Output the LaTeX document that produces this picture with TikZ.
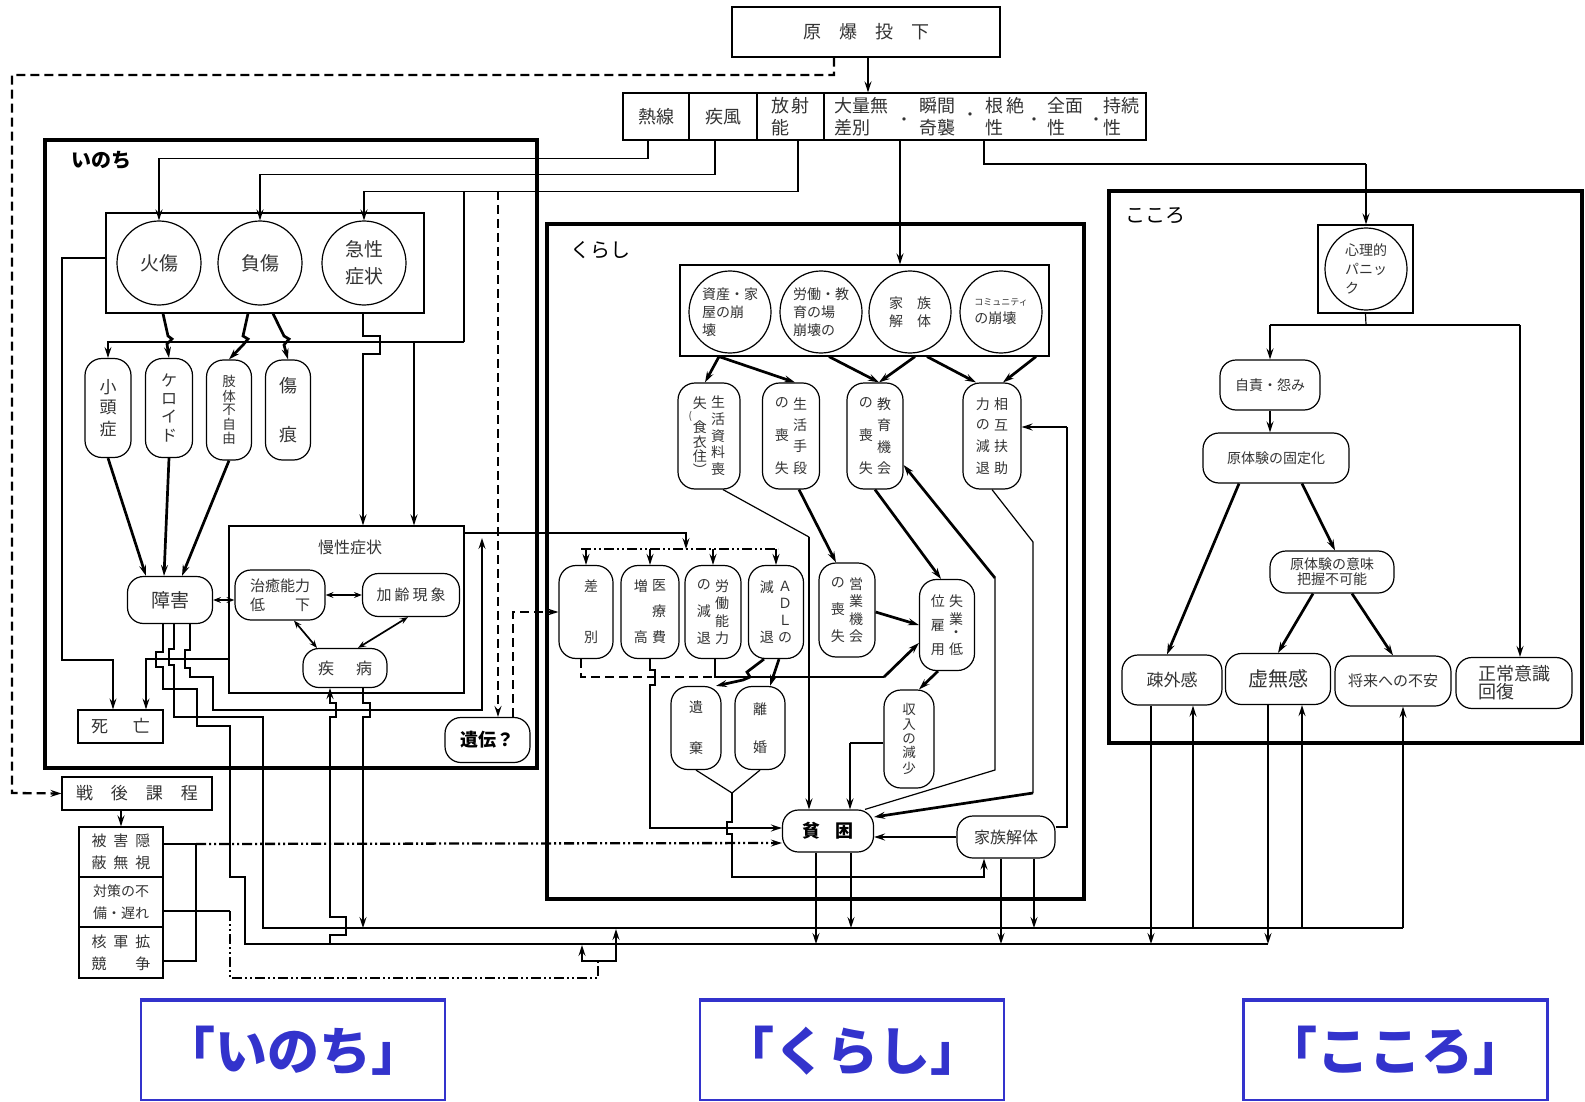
\documentclass[tikz,border=0pt]{standalone}
\usepackage{fontspec}
\setmainfont{Noto Sans CJK JP}
\usetikzlibrary{arrows.meta}
\definecolor{labelblue}{RGB}{51,51,204}
\newcommand{\vcolumn}[2]{\parbox[c][#1][s]{1.1em}{\centering\baselineskip=0pt\lineskip=0pt\relax #2}}

\begin{document}
\begin{tikzpicture}[x=1pt, y=-1pt,
    thinln/.style={line width=1.2pt},
    midln/.style={line width=1.7pt},
    thickln/.style={line width=2.7pt},
    zone/.style={line width=3.6pt},
    dashln/.style={line width=2.3pt, dash pattern=on 9pt off 5pt},
    dashdotln/.style={line width=2.3pt, dash pattern=on 10pt off 3pt on 2pt off 3pt on 2pt off 3pt},
    arr/.style={-{Stealth[length=11pt,width=7pt,inset=4pt]}},
    darr/.style={{Stealth[length=8pt,width=6pt,inset=3pt]}-{Stealth[length=8pt,width=6pt,inset=3pt]}},
    cell/.style={draw, line width=1.2pt, inner sep=0pt, align=center, text=black!80},
    ring/.style={draw, circle, line width=1.2pt, inner sep=0pt, align=left, text=black!80},
    vcap/.style={draw, rounded corners=17pt, line width=1.2pt, inner sep=0pt, text=black!80, font=\fontsize{14}{17}\selectfont},
    hcap/.style={draw, rounded corners=16pt, line width=1.2pt, inner sep=0pt, align=center, text=black!80},
    tag/.style={inner sep=0pt, align=left, text=black!80},
    bluetag/.style={draw=labelblue, line width=2.2pt, text=labelblue, inner sep=0pt, minimum width=304pt, minimum height=99pt, font=\fontsize{52}{60}\selectfont\bfseries}]
    \useasboundingbox (0,0) rectangle (1585,1102);
    % Bomb and its effects
        \node[cell, minimum width=268pt, minimum height=50pt, font=\fontsize{18}{22}\selectfont] (genbaku) at (866,32) {原\quad 爆\quad 投\quad 下};
        \node[cell, minimum width=66pt, minimum height=47pt, font=\fontsize{18}{22}\selectfont] (netsusen) at (656,116.5) {熱線};
        \node[cell, minimum width=68pt, minimum height=47pt, font=\fontsize{18}{22}\selectfont] (shippu) at (723,116.5) {疾風};
        \node[cell, minimum width=67pt, minimum height=47pt, align=left, font=\fontsize{18}{22}\selectfont] (hoshano) at (790.5,116.5) {放\,射\\能};
        \node[cell, minimum width=322pt, minimum height=47pt] (bigcell) at (985,116.5) {};
        \node[tag, anchor=west, font=\fontsize{18}{22}\selectfont] (muSabetsu) at (834,116.5) {大量無\\差別};
        \node[tag, anchor=west, font=\fontsize{18}{22}\selectfont] (shunkan) at (919,116.5) {瞬間\\奇襲};
        \node[tag, anchor=west, font=\fontsize{18}{22}\selectfont] (konzetsu) at (985,116.5) {根\,絶\\性};
        \node[tag, anchor=west, font=\fontsize{18}{22}\selectfont] (zenmen) at (1047,116.5) {全面\\性};
        \node[tag, anchor=west, font=\fontsize{18}{22}\selectfont] (jizoku) at (1103,116.5) {持続\\性};
        \node[tag, font=\fontsize{16}{16}\selectfont] (dotA) at (904,122) {・};
        \node[tag, font=\fontsize{16}{16}\selectfont] (dotB) at (970,117) {・};
        \node[tag, font=\fontsize{16}{16}\selectfont] (dotC) at (1034,122) {・};
        \node[tag, font=\fontsize{16}{16}\selectfont] (dotD) at (1096,122) {・};
    % Inochi
        \draw[zone] (45,140) rectangle (537,768);
        \node[tag, text=black, font=\fontsize{20}{24}\selectfont\bfseries] (inochiLbl) at (101,160) {いのち};
        \node[cell, minimum width=318pt, minimum height=100pt] (acuteGrp) at (265,263) {};
        \node[ring, minimum size=84pt, font=\fontsize{19}{23}\selectfont] (kasho) at (159,263) {火傷};
        \node[ring, minimum size=84pt, font=\fontsize{19}{23}\selectfont] (fusho) at (260,263) {負傷};
        \node[ring, minimum size=84pt, font=\fontsize{19}{27}\selectfont] (kyusei) at (364,263) {急性\\症状};
        \node[vcap, minimum width=46pt, minimum height=99pt, font=\fontsize{17}{17}\selectfont] (shotosho) at (108,408) {\vcolumn{56pt}{小\vfill 頭\vfill 症}};
        \node[vcap, minimum width=47pt, minimum height=99pt, font=\fontsize{16}{16}\selectfont] (keloid) at (169,408) {\vcolumn{68pt}{ケ\vfill ロ\vfill イ\vfill ド}};
        \node[vcap, minimum width=45pt, minimum height=100pt, font=\fontsize{13.5}{14}\selectfont] (shitai) at (229,410) {\vcolumn{68pt}{肢\vfill 体\vfill 不\vfill 自\vfill 由}};
        \node[vcap, minimum width=45pt, minimum height=100pt, font=\fontsize{18}{18}\selectfont] (kizuato) at (288,410) {\vcolumn{64pt}{傷\vfill 痕}};
        \node[hcap, minimum width=85pt, minimum height=47pt, font=\fontsize{19}{23}\selectfont] (shogai) at (170,600) {障害};
        \node[cell, minimum width=235pt, minimum height=167pt] (manseiBox) at (346.5,609.5) {};
        \node[tag, font=\fontsize{16}{19}\selectfont] (manseiLbl) at (350,547) {慢性症状};
        \node[hcap, minimum width=90pt, minimum height=50pt, align=left, font=\fontsize{15}{19}\selectfont] (chiyu) at (280,595) {治癒能力\\低\hspace{2em}下};
        \node[hcap, minimum width=97pt, minimum height=43pt, font=\fontsize{15}{18}\selectfont] (karei) at (411,595) {加\hspace{3pt}齢\hspace{3pt}現\hspace{3pt}象};
        \node[hcap, minimum width=84pt, minimum height=39pt, font=\fontsize{16}{19}\selectfont] (shippei) at (345,668) {疾\hspace{22pt}病};
        \node[cell, minimum width=85pt, minimum height=33pt, font=\fontsize{17}{20}\selectfont] (shibo) at (120.5,726.5) {死\hspace{25pt}亡};
        \node[hcap, minimum width=85pt, minimum height=45pt, text=black, font=\fontsize{18}{22}\selectfont\bfseries] (iden) at (487.5,740) {遺伝？};
    % Post-war course
        \node[cell, minimum width=150pt, minimum height=33pt, font=\fontsize{17}{20}\selectfont] (sengo) at (137,793.5) {戦\hspace{18pt}後\hspace{18pt}課\hspace{18pt}程};
        \node[cell, minimum width=84pt, minimum height=50pt, font=\fontsize{15}{22}\selectfont] (higai) at (121,852) {被\hspace{7pt}害\hspace{7pt}隠\\蔽\hspace{7pt}無\hspace{7pt}視};
        \node[cell, minimum width=84pt, minimum height=50pt, font=\fontsize{14}{22}\selectfont] (taisaku) at (121,902) {対策の不\\備・遅れ};
        \node[cell, minimum width=84pt, minimum height=51pt, align=left, font=\fontsize{15}{22}\selectfont] (kaku) at (121,952.5) {核\hspace{7pt}軍\hspace{7pt}拡\\競\hspace{29pt}争};
    % Kurashi
        \draw[zone] (547,224) rectangle (1084,899);
        \node[tag, text=black, font=\fontsize{20}{24}\selectfont] (kurashiLbl) at (600,250) {くらし};
        \node[cell, minimum width=369pt, minimum height=91pt] (lifeGrp) at (864.5,310.5) {};
        \node[ring, minimum size=82pt, font=\fontsize{14}{18}\selectfont] (shisan) at (730,312) {資産・家\\屋の崩\\壊};
        \node[ring, minimum size=82pt, font=\fontsize{14}{18}\selectfont] (rodo) at (821,312) {労働・教\\育の場\\崩壊の};
        \node[ring, minimum size=82pt, font=\fontsize{14}{18}\selectfont] (kazoku) at (910,312) {家\hspace{14pt}族\\解\hspace{14pt}体};
        \node[ring, minimum size=82pt, font=\fontsize{14}{18}\selectfont] (komyu) at (1001,312) {{\fontsize{9}{10}\selectfont コミュニティ}\\の崩壊};
        \node[vcap, minimum width=62pt, minimum height=106pt] (seikatsuShiryo) at (709,436) {\vcolumn{79pt}{失\vfill\llap{\fontsize{10}{10}\selectfont(}食\vfill 衣\vfill 住\vfill ︶}\hspace{3pt}\vcolumn{79pt}{生\vfill 活\vfill 資\vfill 料\vfill 喪}};
        \node[vcap, minimum width=57pt, minimum height=106pt] (seikatsuShudan) at (791,436) {\vcolumn{76pt}{の\vfill 喪\vfill 失}\hspace{3pt}\vcolumn{76pt}{生\vfill 活\vfill 手\vfill 段}};
        \node[vcap, minimum width=56pt, minimum height=106pt] (kyoiku) at (875,436) {\vcolumn{76pt}{の\vfill 喪\vfill 失}\hspace{3pt}\vcolumn{76pt}{教\vfill 育\vfill 機\vfill 会}};
        \node[vcap, minimum width=58pt, minimum height=106pt] (sogo) at (992,436) {\vcolumn{76pt}{力\vfill の\vfill 減\vfill 退}\hspace{3pt}\vcolumn{76pt}{相\vfill 互\vfill 扶\vfill 助}};
        \node[vcap, minimum width=54pt, minimum height=93pt] (sabetsu) at (586,612) {\hspace{10pt}\vcolumn{63pt}{差\vfill 別}};
        \node[vcap, minimum width=58pt, minimum height=93pt] (iryo) at (650,612) {\vcolumn{63pt}{増\vfill 高}\hspace{3pt}\vcolumn{63pt}{医\vfill 療\vfill 費}};
        \node[vcap, minimum width=56pt, minimum height=93pt] (rodoryoku) at (713,612) {\vcolumn{64pt}{の\vfill 減\vfill 退}\hspace{3pt}\vcolumn{64pt}{労\vfill 働\vfill 能\vfill 力}};
        \node[vcap, minimum width=55pt, minimum height=93pt] (adl) at (776,612) {\vcolumn{62pt}{減\vfill 退}\hspace{3pt}\vcolumn{62pt}{Ａ\vfill Ｄ\vfill Ｌ\vfill の}};
        \node[vcap, minimum width=56pt, minimum height=94pt] (eigyo) at (847,610) {\vcolumn{64pt}{の\vfill 喪\vfill 失}\hspace{3pt}\vcolumn{64pt}{営\vfill 業\vfill 機\vfill 会}};
        \node[vcap, minimum width=55pt, minimum height=91pt] (shitsugyo) at (947,625) {\vcolumn{60pt}{位\vfill 雇\vfill 用}\hspace{3pt}\vcolumn{60pt}{失\vfill 業\vfill ・\vfill 低}};
        \node[vcap, minimum width=50pt, minimum height=98pt, font=\fontsize{13.5}{14}\selectfont] (shunyu) at (909,739) {\vcolumn{70pt}{収\vfill 入\vfill の\vfill 減\vfill 少}};
        \node[vcap, minimum width=50pt, minimum height=83pt] (iki) at (696,728) {\vcolumn{53pt}{遺\vfill 棄}};
        \node[vcap, minimum width=50pt, minimum height=83pt] (rikon) at (760,728) {\vcolumn{50pt}{離\vfill 婚}};
        \node[hcap, minimum width=91pt, minimum height=42pt, text=black, font=\fontsize{18}{22}\selectfont\bfseries] (hinkon) at (828,831) {貧\hspace{16pt}困};
        \node[hcap, minimum width=98pt, minimum height=42pt, font=\fontsize{16}{19}\selectfont] (kazokuKaitai) at (1006,837) {家族解体};
    % Kokoro
        \draw[zone] (1109,191) rectangle (1582,743);
        \node[tag, text=black, font=\fontsize{20}{24}\selectfont] (kokoroLbl) at (1155,216) {こころ};
        \node[cell, minimum width=95pt, minimum height=88pt] (panicBox) at (1365.5,269) {};
        \node[ring, minimum size=82pt, font=\fontsize{14}{19}\selectfont] (panic) at (1366,269) {心理的\\パニッ\\ク};
        \node[hcap, minimum width=100pt, minimum height=50pt, font=\fontsize{14}{17}\selectfont] (jiseki) at (1270,385) {自責・怨み};
        \node[hcap, minimum width=146pt, minimum height=50pt, font=\fontsize{14}{17}\selectfont] (koteika) at (1276,458) {原体験の固定化};
        \node[hcap, minimum width=124pt, minimum height=42pt, font=\fontsize{14}{15}\selectfont] (imi) at (1332,572) {原体験の意味\\把握不可能};
        \node[hcap, minimum width=100pt, minimum height=50pt, font=\fontsize{17}{20}\selectfont] (sogai) at (1172,680) {疎外感};
        \node[hcap, minimum width=105pt, minimum height=51pt, font=\fontsize{20}{24}\selectfont] (kyomu) at (1278,679) {虚無感};
        \node[hcap, minimum width=116pt, minimum height=50pt, font=\fontsize{15}{18}\selectfont] (fuan) at (1393,681) {将来への不安};
        \node[hcap, minimum width=116pt, minimum height=51pt, align=left, font=\fontsize{18}{18}\selectfont] (seijo) at (1514,683) {正常意識\\回復};
    % Labels
        \node[bluetag] (lblInochi) at (293,1050.5) {「いのち」};
        \node[bluetag] (lblKurashi) at (852,1050.5) {「くらし」};
        \node[bluetag] (lblKokoro) at (1395.5,1050.5) {「こころ」};
        \foreach \lbl in {lblInochi, lblKurashi, lblKokoro}
            \draw[labelblue, line width=4.5pt] (\lbl.north west) -- (\lbl.north east);
    % Rays
        \draw[midln, arr] ([xshift=2pt]genbaku.south) -- ([xshift=2pt]genbaku.south |- bigcell.north);
        \draw[dashln, arr] ([xshift=-32pt]genbaku.south) |- (12,75) -- (12,793) -- (sengo.west);
        \draw[midln, arr] ([xshift=-8pt]netsusen.south) -- ++(0,18) -| (kasho.north);
        \draw[midln, arr] ([xshift=-8pt]shippu.south) -- ++(0,34) -| (fusho.north);
        \draw[midln, arr] ([xshift=7.5pt]hoshano.south) -- ++(0,51) -| (kyusei.north);
        \coordinate (radBranch) at (464,191);
        \coordinate (radJoin) at (464,342);
        \coordinate (radDrop) at (414,342);
        \coordinate (heredTop) at (498,191);
        \coordinate (acuteDrop) at (363,354);
        \draw[thinln] (radBranch) -- (radJoin);
        \draw[thinln, arr] (radJoin) -| (shotosho.north);
        \draw[thickln, arr] (radDrop) -- (radDrop |- manseiBox.north);
        \draw[dashln, arr] (heredTop) -- ([xshift=10.5pt]iden.north);
        \draw[thickln, arr] ([xshift=-85pt]bigcell.south) -- ([xshift=35.5pt]lifeGrp.north);
        \coordinate (psyTurn) at (1366,164);
        \draw[thinln] ([xshift=-1pt]bigcell.south) |- (psyTurn);
        \draw[thickln, arr] (psyTurn) -- (psyTurn |- panicBox.north);
    % Inochi links
        \draw[thinln, arr] ([yshift=5pt]acuteGrp.west) -- (62,258) -- (62,660) -| ([xshift=-7.5pt]shibo.north);
        \draw[thinln, arr] (manseiBox.west |- 0,659) -| ([xshift=25.5pt]shibo.north);
        \draw[thickln, arr] ([xshift=4pt]kasho.south |- acuteGrp.south) -- (168,336) -- (172,339) -- (167,344) -- (keloid.north);
        \draw[thickln, arr] ([xshift=-12pt]fusho.south |- acuteGrp.south) -- (243,336) -- (248,339) -- (243,345) -- (shitai.north);
        \draw[thickln, arr] ([xshift=13pt]fusho.south |- acuteGrp.south) -- (284,336) -- (289,339) -- (284,345) -- (kizuato.north);
        \draw[thickln, arr] ([xshift=-1pt]kyusei.south |- acuteGrp.south) -- (363,336) -- (380,336) -- (380,354) -- (acuteDrop) -- (acuteDrop |- manseiBox.north);
        \draw[thickln, arr] (shotosho.south) -- ([xshift=-24pt]shogai.north);
        \draw[thickln, arr] (keloid.south) -- ([xshift=-6pt]shogai.north);
        \draw[thickln, arr] (shitai.south) -- ([xshift=12pt]shogai.north);
        \draw[midln, darr] (shogai.east) -- (shogai.east -| chiyu.west);
        \draw[midln, darr] (chiyu.east) -- (karei.west);
        \draw[midln, darr] ([xshift=14pt]chiyu.south) -- ([xshift=-28pt]shippei.north);
        \draw[midln, darr] ([xshift=-3pt]karei.south) -- ([xshift=13pt]shippei.north);
    % Bus lines
        \coordinate (lowStart) at (245,944);
        \coordinate (lowEnd) at (1268,944);
        \coordinate (upStart) at (263,928);
        \coordinate (upEnd) at (1403,928);
        \draw[thinln] ([xshift=-7pt]shogai.south) -- (163,652) -- (156,652) -- (156,667) -- (163,667) -- (163,689) -- (197,689) -- (197,726) -- (230,726) -- (230,877) -- (245,877) -- (lowStart) -- (lowEnd);
        \draw[thinln] ([xshift=4pt]shogai.south) -- (174,649) -- (169,649) -- (169,665) -- (174,665) -- (174,717) -- (263,717) -- (upStart) -- (upEnd);
        \draw[thickln, arr] ([xshift=20pt]shogai.south) -- (190,650) -- (185,650) -- (185,668) -- (190,668) -- (190,677) -- (213,677) -- (213,710) -- (482,710) -- (482,538);
        \draw[thinln, arr] (manseiBox.east |- 0,533) -- (686,533) -- (686,549);
        \draw[thickln, arr] (330,944) -- (330,935) -- (346,935) -- (346,917) -- (330,917) -- (330,717) -- (336,717) -- (336,703) -- (330,703) -- ([xshift=-15pt]shippei.south);
        \draw[thickln, arr] ([xshift=18pt]shippei.south) -- (363,703) -- (370,703) -- (370,717) -- (363,717) -- (363,928);
        \draw[dashln, arr] ([xshift=25.5pt]iden.north) |- (sabetsu.west);
    % Post-war links
        \draw[thickln, arr] ([xshift=-16pt]sengo.south) -- (higai.north);
        \draw[thinln] ([yshift=8pt]higai.east) -- (196,844) -- (196,961) -- ([yshift=-8.5pt]kaku.east);
        \draw[dashdotln, arr] (196,844) -- ([yshift=-12pt]hinkon.west);
        \draw[thinln] ([yshift=-9pt]taisaku.east) -- (230,911);
        \draw[dashdotln] (230,911) -- (230,978) -- (598,978) -- (598,961);
        \draw[midln, arr] (598,961) -| (582,945);
        \draw[midln, arr] (598,961) -| (616,929);
    % Kurashi links
        \draw[thickln, arr] ([xshift=-145.5pt]lifeGrp.south) -- ([xshift=-4pt]seikatsuShiryo.north);
        \draw[thickln, arr] ([xshift=-145.5pt]lifeGrp.south) -- ([xshift=4pt]seikatsuShudan.north);
        \draw[thickln, arr] ([xshift=-35.5pt]lifeGrp.south) -- ([xshift=4pt]kyoiku.north);
        \draw[thickln, arr] ([xshift=50.5pt]lifeGrp.south) -- ([xshift=4pt]kyoiku.north);
        \draw[thickln, arr] ([xshift=62.5pt]lifeGrp.south) -- ([xshift=-16pt]sogo.north);
        \draw[thickln, arr] ([xshift=171.5pt]lifeGrp.south) -- ([xshift=11pt]sogo.north);
        \draw[thinln] ([xshift=14pt]seikatsuShiryo.south) -- (809,537);
        \draw[thickln, arr] (809,537) -- ([xshift=-19pt]hinkon.north);
        \draw[thickln, arr] ([xshift=8pt]seikatsuShudan.south) -- ([xshift=-11pt]eigyo.north);
        \draw[thickln, arr] (kyoiku.south) -- ([xshift=-6pt]shitsugyo.north);
        \draw[thinln] ([xshift=37pt]hinkon.north) -- (995,770) -- (995,578);
        \draw[thickln, arr] (995,578) -- ([yshift=-29pt]kyoiku.east);
        \draw[thinln] (sogo.south) -- (1033,542) -- (1033,793);
        \draw[thickln, arr] (1033,793) -- ([yshift=14pt]hinkon.east);
        \draw[thinln] ([yshift=10pt]kazokuKaitai.east) -| (1067,427);
        \draw[thickln, arr] (1067,427) -- ([yshift=9pt]sogo.east);
        \draw[dashdotln] (581,549) -- (778,549);
        \foreach \capname in {sabetsu, iryo, rodoryoku, adl}
            \draw[midln, arr] (\capname.north |- 0,549) -- (\capname.north);
        \draw[dashln] ([xshift=-5pt]sabetsu.south) -- (581,677) -- (715,677);
        \draw[thinln] ([xshift=2pt]rodoryoku.south) -- (715,677) -- (884,677);
        \draw[thickln, arr] (884,677) -- ([yshift=-18pt]shitsugyo.west);
        \draw[thickln, arr] (iryo.south) -- (650,670) -- (655,670) -- (655,685) -- (650,685) -- (650,828) -- ([yshift=3pt]hinkon.west);
        \draw[thickln, arr] ([xshift=-12pt]adl.south) -- (747,672) -- (750,677) -- (743,680) -- ([xshift=20pt]iki.north);
        \draw[thickln, arr] ([xshift=3pt]adl.south) -- ([xshift=10pt]rikon.north);
        \draw[thickln, arr] ([yshift=-2pt]eigyo.east) -- (shitsugyo.west);
        \draw[thickln, arr] ([xshift=-9pt]shitsugyo.south) -- ([xshift=10pt]shunyu.north);
        \draw[thinln] ([yshift=-4pt]shunyu.west) -- (850,743);
        \draw[thickln, arr] (850,743) -- ([xshift=22pt]hinkon.north);
        \coordinate (divJoin) at (732,793);
        \draw[thinln] (iki.south) -- (divJoin) -- (rikon.south);
        \draw[thickln, arr] (divJoin) -- (732,822) -- (727,822) -- (727,834) -- (732,834) -- (732,877) -| ([xshift=-22pt]kazokuKaitai.south);
        \draw[thickln, arr] (kazokuKaitai.west) -- (kazokuKaitai.west -| hinkon.east);
        \draw[midln, arr] ([xshift=-12pt]hinkon.south) -- ([xshift=-12pt]hinkon.south |- lowEnd);
        \draw[midln, arr] ([xshift=23pt]hinkon.south) -- ([xshift=23pt]hinkon.south |- upEnd);
        \draw[midln, arr] ([xshift=-5pt]kazokuKaitai.south) -- ([xshift=-5pt]kazokuKaitai.south |- lowEnd);
        \draw[midln, arr] ([xshift=28pt]kazokuKaitai.south) -- ([xshift=28pt]kazokuKaitai.south |- upEnd);
    % Kokoro links
        \coordinate (panicFork) at (1366,325);
        \draw[thinln] (panicBox.south) -- (panicFork);
        \draw[thinln] (jiseki.north |- panicFork) -- ([xshift=6pt]seijo.north |- panicFork);
        \draw[thickln, arr] (jiseki.north |- panicFork) -- (jiseki.north);
        \draw[thickln, arr] ([xshift=6pt]seijo.north |- panicFork) -- ([xshift=6pt]seijo.north);
        \draw[thickln, arr] (jiseki.south) -- (jiseki.south |- koteika.north);
        \draw[thickln, arr] ([xshift=-37pt]koteika.south) -- ([xshift=-5pt]sogai.north);
        \draw[thickln, arr] ([xshift=26pt]koteika.south) -- ([xshift=3pt]imi.north);
        \draw[thickln, arr] ([xshift=-19pt]imi.south) -- (kyomu.north);
        \draw[thickln, arr] ([xshift=20pt]imi.south) -- (fuan.north);
        \draw[midln, arr] ([xshift=-21pt]sogai.south) -- ([xshift=-21pt]sogai.south |- lowEnd);
        \draw[midln, arr] ([xshift=21pt]sogai.south |- upEnd) -- ([xshift=21pt]sogai.south);
        \draw[midln, arr] ([xshift=-10pt]kyomu.south) -- ([xshift=-10pt]kyomu.south |- lowEnd);
        \draw[midln, arr] ([xshift=24pt]kyomu.south |- upEnd) -- ([xshift=24pt]kyomu.south);
        \draw[midln, arr] ([xshift=10pt]fuan.south |- upEnd) -- ([xshift=10pt]fuan.south);
\end{tikzpicture}
\end{document}
